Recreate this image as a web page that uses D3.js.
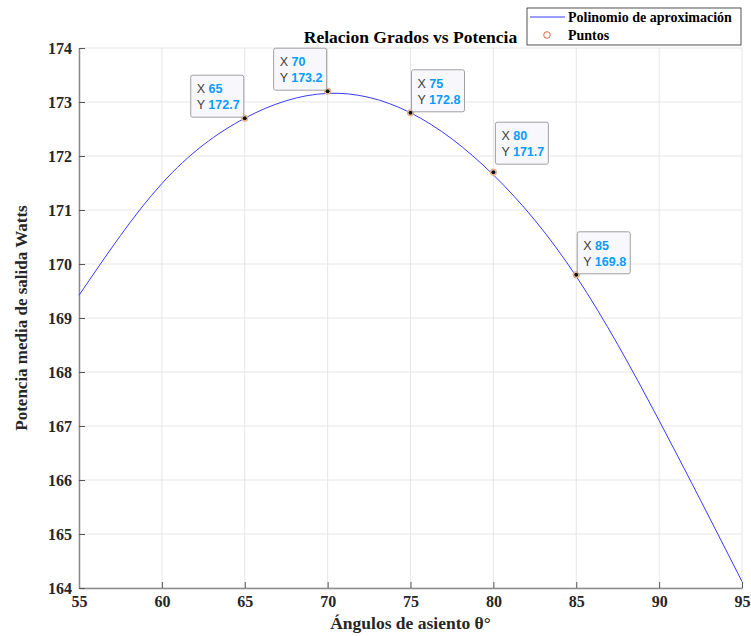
<!DOCTYPE html>
<html>
<head>
<meta charset="utf-8">
<script src="https://cdn.jsdelivr.net/npm/d3@7"></script>
<style>
  body { margin: 0; background: #fff; }
  svg text { font-family: "Liberation Serif", "Times New Roman", serif; font-weight: bold; }
</style>
</head>
<body>
<svg id="chart" width="751" height="636"></svg>
<script>
// curve (fitted polynomial)
var curveX = [55, 60, 65, 70, 75, 80, 85, 90, 95];
var curveY = [169.42, 171.49, 172.70, 173.16, 172.80, 171.65, 169.77, 167.1, 164.12];
// measured points + data tips
var ptX = [65, 70, 75, 80, 85];
var ptY = [172.7, 173.2, 172.8, 171.7, 169.8];
var tipSide = ["left", "left", "right", "right", "right"];
var xTicks = [55, 60, 65, 70, 75, 80, 85, 90, 95];
var yTicks = [164, 165, 166, 167, 168, 169, 170, 171, 172, 173, 174];

var svg = d3.select("#chart");
var plotL = 79, plotR = 742, plotT = 48, plotB = 588;

var x = d3.scaleLinear().domain([55, 95]).range([plotL, plotR]);
var y = d3.scaleLinear().domain([164, 174]).range([plotB, plotT]);

// grid
svg.append("g").selectAll("line").data(xTicks).join("line")
    .attr("x1", d => x(d)).attr("x2", d => x(d))
    .attr("y1", plotT).attr("y2", plotB)
    .attr("stroke", "#e6e6e6");
svg.append("g").selectAll("line").data(yTicks).join("line")
    .attr("x1", plotL).attr("x2", plotR)
    .attr("y1", d => y(d)).attr("y2", d => y(d))
    .attr("stroke", "#e6e6e6");

// axes
var xAxis = svg.append("g")
    .attr("transform", "translate(0," + plotB + ")")
    .call(d3.axisBottom(x).tickValues(xTicks).tickSize(-6).tickPadding(8).tickSizeOuter(0));
var yAxis = svg.append("g")
    .attr("transform", "translate(" + plotL + ",0)")
    .call(d3.axisLeft(y).tickValues(yTicks).tickSize(-6).tickPadding(7).tickSizeOuter(0));
[xAxis, yAxis].forEach(function(a) {
  a.select(".domain").attr("stroke", "#8c8c8c").attr("stroke-width", 1.5);
  a.selectAll(".tick line").attr("stroke", "#555");
  a.selectAll(".tick text")
    .attr("fill", "#262626")
    .style("font-family", "Liberation Serif, serif")
    .style("font-weight", "bold")
    .style("font-size", "16px");
});

// curve
var line = d3.line()
    .x((d, i) => x(curveX[i]))
    .y(d => y(d))
    .curve(d3.curveNatural);
svg.append("path")
    .attr("d", line(curveY))
    .attr("fill", "none")
    .attr("stroke", "#3a3aff")
    .attr("stroke-width", 1);

// points
var pts = svg.append("g").selectAll("g").data(ptY).join("g")
    .attr("transform", (d, i) => "translate(" + x(ptX[i]) + "," + y(d) + ")");
pts.append("circle").attr("r", 3.2)
    .attr("fill", "#f2d6b8").attr("stroke", "#e8a77a").attr("stroke-width", 1);
pts.append("circle").attr("r", 2).attr("fill", "#111");

// data tips
var tw = 53, th = 42;
var tips = svg.append("g").selectAll("g").data(ptY).join("g")
    .attr("transform", function(d, i) {
      var px = x(ptX[i]), py = y(d);
      var tx = tipSide[i] == "left" ? px - tw - 1 : px + 1;
      var ty = py - th - 1;
      if (i == 3) { tx = px + 2; ty = py - th - 8; }
      return "translate(" + tx + "," + ty + ")";
    });
tips.append("rect")
    .attr("width", tw).attr("height", th).attr("rx", 2)
    .attr("fill", "#f8f8fc").attr("fill-opacity", 0.95)
    .attr("stroke", "#a0a0a0").attr("stroke-width", 1);
function tipLine(label, val, yy) {
  var t = tips.append("text")
      .attr("x", 6).attr("y", yy)
      .style("font-family", "Liberation Sans, Arial, sans-serif")
      .style("font-weight", "normal")
      .style("font-size", "12.5px");
  t.append("tspan").attr("fill", "#404040").text(label + " ");
  t.append("tspan").attr("fill", "#0a9bff").style("font-weight", "bold").text(val);
}
tipLine("X", (d, i) => ptX[i], 18);
tipLine("Y", d => d.toFixed(1), 34);

// title & labels
svg.append("text").attr("x", (plotL + plotR) / 2).attr("y", 43)
    .attr("text-anchor", "middle").style("font-size", "17.5px").attr("fill", "#000")
    .text("Relacion Grados vs Potencia");
svg.append("text").attr("x", (plotL + plotR) / 2).attr("y", 629)
    .attr("text-anchor", "middle").style("font-size", "17.5px").attr("fill", "#262626")
    .text("Ángulos de asiento θ°");
svg.append("text")
    .attr("transform", "translate(27," + ((plotT + plotB) / 2) + ") rotate(-90)")
    .attr("text-anchor", "middle").style("font-size", "17px").attr("fill", "#262626")
    .text("Potencia media de salida Watts");

// legend
var lg = svg.append("g");
lg.append("rect").attr("x", 527).attr("y", 8).attr("width", 214).attr("height", 37)
    .attr("fill", "#fff").attr("stroke", "#262626").attr("stroke-width", 0.8);
lg.append("line").attr("x1", 530).attr("x2", 565).attr("y1", 17).attr("y2", 17)
    .attr("stroke", "#3a3aff").attr("stroke-width", 1);
lg.append("circle").attr("cx", 547).attr("cy", 35).attr("r", 3.3)
    .attr("fill", "none").attr("stroke", "#e0703a").attr("stroke-width", 1);
lg.append("text").attr("x", 568).attr("y", 22).style("font-size", "14px").attr("fill", "#000")
    .text("Polinomio de aproximación");
lg.append("text").attr("x", 568).attr("y", 40).style("font-size", "14px").attr("fill", "#000")
    .text("Puntos");
</script>
</body>
</html>
